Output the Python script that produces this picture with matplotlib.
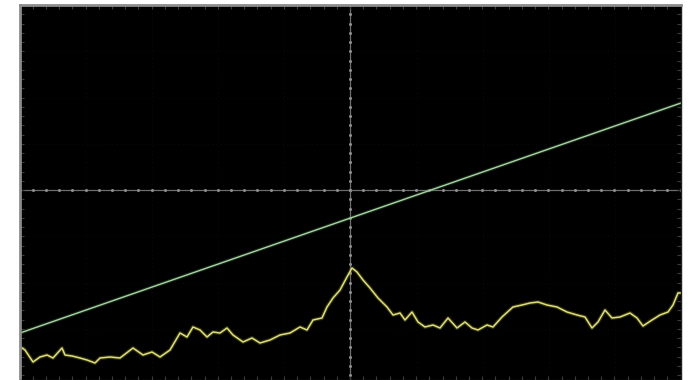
import numpy as np
import matplotlib.pyplot as plt

# screen units: 661 x 375, 10 x 8 divisions, centre at (330, 190)
ramp_t = [0, 661]
ramp_v = [47, 277]

trace_t = [0, 2, 5, 13, 20, 27, 33, 42, 45, 52,
           60, 67, 75, 80, 90, 100, 113, 123, 132, 140,
           150, 160, 167, 173, 180, 187, 193, 200, 207, 213,
           223, 232, 240, 250, 260, 270, 280, 287, 293, 302,
           307, 313, 320, 327, 332, 337, 343, 350, 358, 367,
           373, 380, 385, 392, 398, 405, 413, 420, 428, 437,
           445, 452, 458, 467, 473, 482, 493, 502, 510, 518,
           527, 537, 547, 557, 565, 572, 578, 585, 592, 600,
           610, 617, 623, 632, 640, 648, 653, 658, 661]
trace_v = [32, 32, 30, 18, 23, 25, 22, 32, 25, 24,
           22, 20, 17, 22, 23, 22, 32, 25, 28, 23,
           30, 47, 43, 53, 50, 43, 48, 47, 52, 45,
           38, 42, 37, 40, 45, 47, 53, 50, 60, 62,
           73, 82, 90, 103, 112, 108, 100, 92, 82, 73,
           65, 67, 60, 68, 58, 53, 55, 52, 62, 52,
           58, 52, 50, 55, 53, 63, 73, 75, 77, 78,
           75, 73, 68, 65, 63, 52, 58, 70, 62, 63,
           67, 62, 54, 60, 65, 68, 75, 87, 87]

W, H = 661, 375
cx, cy = 330, 190
dx, dy = W / 10, 185 / 4

fig = plt.figure(figsize=(6.99, 3.80), dpi=100, facecolor="white")
ax = fig.add_axes([20 / 699, 0, 661 / 699, 375 / 380])
ax.set_facecolor("black")
ax.set_xlim(0, W)
ax.set_ylim(0, H)
ax.set_xticks([])
ax.set_yticks([])

# barely visible division grid
for i in range(1, 10):
    ax.axvline(i * dx, color="#101010", lw=0.6, ls=(0, (1, 4)))
for j in range(-3, 4):
    ax.axhline(cy + j * dy, color="#101010", lw=0.6, ls=(0, (1, 4)))

# centre crosshair with sub-division ticks
ax.axvline(cx, color="#6e6e6e", lw=0.9)
ax.axhline(cy, color="#6e6e6e", lw=0.9)
xs = cx + np.arange(-25, 26) * dx / 5
ys = cy + np.arange(-20, 21) * dy / 5
ax.plot(xs, np.full_like(xs, cy), ls="none", marker="o", ms=2.2, mew=0, color="#8e8e8e")
ax.plot(np.full_like(ys, cx), ys, ls="none", marker="o", ms=2.2, mew=0, color="#8e8e8e")

# edge ticks
ax.plot(xs, np.full_like(xs, H - 2), ls="none", marker="|", ms=3, mew=0.8, color="#3c3c3c")
ax.plot(xs, np.full_like(xs, 2), ls="none", marker="|", ms=3, mew=0.8, color="#3c3c3c")
ax.plot(np.full_like(ys, 2), ys, ls="none", marker="_", ms=3, mew=0.8, color="#3c3c3c")
ax.plot(np.full_like(ys, W - 2), ys, ls="none", marker="_", ms=3, mew=0.8, color="#3c3c3c")

# traces with a soft glow
ax.plot(ramp_t, ramp_v, color="#4f804f", lw=2.6, alpha=0.3)
ax.plot(ramp_t, ramp_v, color="#a8d4a4", lw=1.0)
ax.plot(trace_t, trace_v, color="#8a8a2c", lw=2.8, alpha=0.35)
ax.plot(trace_t, trace_v, color="#dede7c", lw=1.1)

for side in ["left", "top"]:
    ax.spines[side].set_color("#8c8c8c")
    ax.spines[side].set_linewidth(2)
for side in ["right", "bottom"]:
    ax.spines[side].set_color("#1e1e1e")
    ax.spines[side].set_linewidth(1)

fig.savefig("out.png", dpi=100, facecolor="white")
